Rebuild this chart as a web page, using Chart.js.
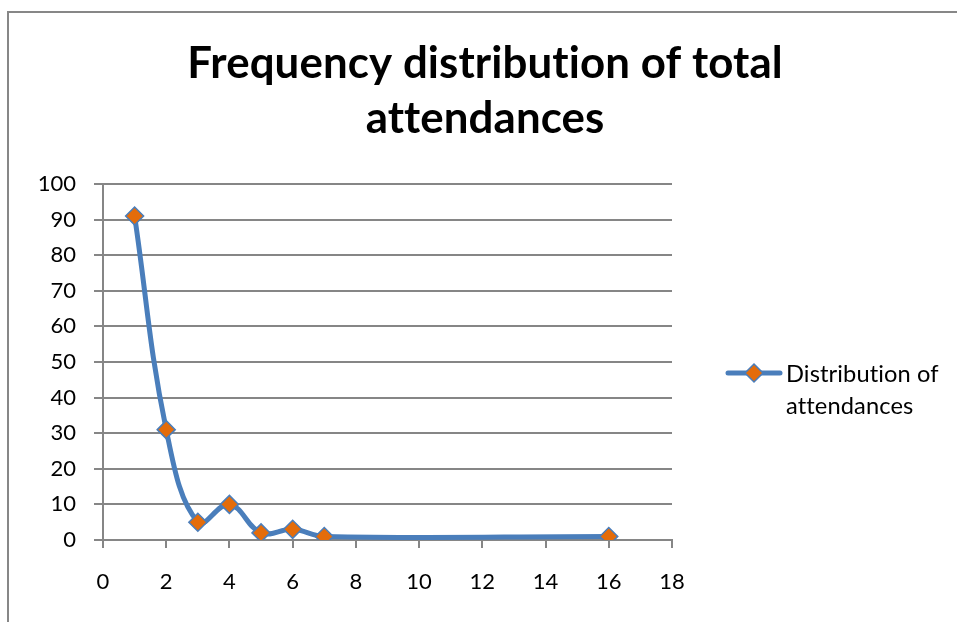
<!DOCTYPE html>
<html>
<head>
<meta charset="utf-8">
<script src="https://cdn.jsdelivr.net/npm/chart.js@4.4.1/dist/chart.umd.min.js"></script>
<style>
  html, body { margin: 0; padding: 0; background: #fff; }
  #wrap { position: relative; width: 957px; height: 622px; }
</style>
</head>
<body>
<div id="wrap"><canvas id="chart" width="957" height="622"></canvas></div>
<script>
// data
var titleLines = ['Frequency distribution of total', 'attendances'];
var seriesName = ['Distribution of', 'attendances'];
var attendances = [1, 2, 3, 4, 5, 6, 7, 16];
var frequency = [91, 31, 5, 10, 2, 3, 1, 1];

var lineBlue = '#4A7EBB';
var markerOrange = '#E46C0A';
var gridGray = '#868686';
var fontName = 'Lato, "Open Sans", sans-serif';

// frame, title and wrapped legend are drawn by hand
var extras = {
    id: 'extras',
    afterDraw: function (chart) {
        var c = chart.ctx;
        c.save();
        c.letterSpacing = '0.1px'; // keeps Lato from using ligatures
        // frame
        c.strokeStyle = '#878787';
        c.lineWidth = 2;
        c.beginPath();
        c.moveTo(8, 622);
        c.lineTo(8, 12);
        c.lineTo(957, 12);
        c.stroke();

        // title
        c.fillStyle = '#000';
        c.textAlign = 'center';
        c.textBaseline = 'alphabetic';
        var size = 40;
        c.font = 'bold ' + size + 'px ' + fontName;
        var w = c.measureText(titleLines[0]).width;
        size = size * 596 / w;
        c.font = 'bold ' + size + 'px ' + fontName;
        c.fillText(titleLines[0], 485, 78);
        c.fillText(titleLines[1], 485, 133);

        // legend
        c.strokeStyle = lineBlue;
        c.lineWidth = 5;
        c.lineCap = 'round';
        c.beginPath();
        c.moveTo(728, 373);
        c.lineTo(780, 373);
        c.stroke();
        c.beginPath();
        c.moveTo(754, 364);
        c.lineTo(763, 373);
        c.lineTo(754, 382);
        c.lineTo(745, 373);
        c.closePath();
        c.fillStyle = markerOrange;
        c.fill();
        c.lineWidth = 1.5;
        c.stroke();
        c.fillStyle = '#000';
        c.textAlign = 'left';
        var ls = 20;
        c.font = ls + 'px ' + fontName;
        ls = ls * 153 / c.measureText(seriesName[0]).width;
        c.font = ls + 'px ' + fontName;
        c.fillText(seriesName[0], 786, 382);
        c.fillText(seriesName[1], 786, 414);
        c.restore();
    }
};

var points = attendances.map(function (x, i) { return { x: x, y: frequency[i] }; });

var ctx = document.getElementById('chart').getContext('2d');
var myChart = new Chart(ctx, {
    type: 'line',
    data: {
        datasets: [{
            label: seriesName.join(' '),
            data: points,
            borderColor: lineBlue,
            borderWidth: 5,
            tension: 0.4,
            pointStyle: 'rectRot',
            pointRadius: 9,
            pointBackgroundColor: markerOrange,
            pointBorderColor: lineBlue,
            pointBorderWidth: 1.5
        }]
    },
    options: {
        responsive: false,
        animation: false,
        layout: { padding: { left: 0, top: 184, right: 285, bottom: 0 } },
        plugins: {
            legend: { display: false },
            title: { display: false },
            tooltip: { enabled: false }
        },
        scales: {
            x: {
                type: 'linear',
                min: 0,
                max: 18,
                ticks: {
                    stepSize: 2,
                    color: '#000',
                    padding: 21,
                    font: { family: fontName, size: 22 }
                },
                grid: {
                    drawOnChartArea: false,
                    drawTicks: true,
                    tickLength: 8,
                    color: gridGray,
                    lineWidth: 2
                },
                border: { color: gridGray, width: 2 },
                afterFit: function (scale) { scale.height = 82; }
            },
            y: {
                min: 0,
                max: 100,
                ticks: {
                    stepSize: 10,
                    color: '#000',
                    padding: 18,
                    font: { family: fontName, size: 22 }
                },
                grid: {
                    color: gridGray,
                    lineWidth: 2,
                    tickLength: 9
                },
                border: { color: gridGray, width: 2 },
                afterFit: function (scale) { scale.width = 103; }
            }
        }
    },
    plugins: [extras]
});
</script>
</body>
</html>
